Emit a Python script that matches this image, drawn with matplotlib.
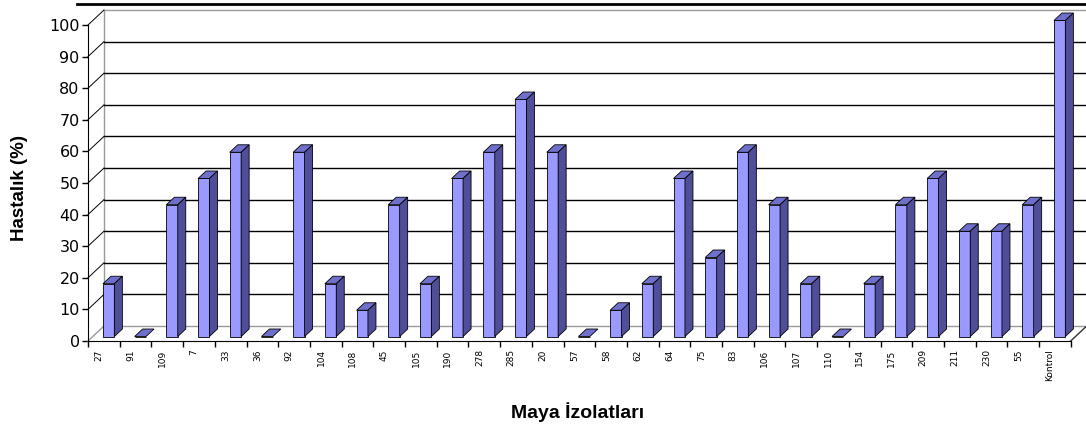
import matplotlib
matplotlib.use("Agg")
import matplotlib.pyplot as plt
from matplotlib.patches import Polygon
from matplotlib.lines import Line2D
import numpy as np

isolates = ["27", "91", "109", "7", "33", "36", "92", "104", "108", "45", "105",
            "190", "278", "285", "20", "57", "58", "62", "64", "75", "83", "106",
            "107", "110", "154", "175", "209", "211", "230", "55", "Kontrol"]
disease = [16.7, 0, 41.7, 50, 58.3, 0, 58.3, 16.7, 8.3, 41.7, 16.7,
           50, 58.3, 75, 58.3, 0, 8.3, 16.7, 50, 25, 58.3, 41.7,
           16.7, 0, 16.7, 41.7, 50, 33.3, 33.3, 41.7, 100]
yticks = list(range(0, 101, 10))

W, H = 1086, 430
fig = plt.figure(figsize=(W / 100, H / 100), dpi=100)

# pixel geometry of the pseudo-3d box
x0_px, y0_px = 88, 341          # front origin
cat_px, unit_px = 31.7, 3.16    # px per category / per percent
xmin, ymin, ymax = -0.2, -2.0, 106.0
xmax = (W - x0_px) / cat_px
left = x0_px + xmin * cat_px
bottom = y0_px - ymin * unit_px
top = y0_px - ymax * unit_px
ax = fig.add_axes([left / W, 1 - bottom / H, (W - left) / W, (bottom - top) / H])
ax.set_xlim(xmin, xmax)
ax.set_ylim(ymin, ymax)

n = len(isolates)
dx, dy = 16 / cat_px, 15 / unit_px   # wall depth in data units
wall_col = "#9a9a9a"

# back wall border and floor
ax.plot([dx, dx, n + dx], [dy, 100 + dy, 100 + dy], color=wall_col, lw=1)
ax.plot([dx, n + dx], [dy, dy], color=wall_col, lw=1)
ax.plot([n + dx, n + dx], [dy, 100 + dy], color=wall_col, lw=1)
ax.plot([0, dx], [0, dy], color=wall_col, lw=1)
ax.plot([n, n + dx], [0, dy], color="#333333", lw=1)
for v in yticks[1:]:
    if v < 100:
        ax.plot([dx, n + dx], [v + dy, v + dy], color="black", lw=1)
    ax.plot([0, dx], [v, v + dy], color="black", lw=0.7)

# bars: front face with ax.bar, top and side faces as polygons
a0, a1 = 0.3, 0.8
bw = 0.36
centers = np.arange(n) + 0.5
xf = centers + a0 * dx
base = a0 * dy
ax.bar(xf, disease, width=bw, bottom=base, color="#9999ff",
       edgecolor="black", linewidth=0.6, zorder=3)
ddx, ddy = (a1 - a0) * dx, (a1 - a0) * dy
for xc, v in zip(xf, disease):
    xl, xr = xc - bw / 2, xc + bw / 2
    yt = base + v
    ax.add_patch(Polygon([(xl, yt), (xr, yt), (xr + ddx, yt + ddy), (xl + ddx, yt + ddy)],
                         closed=True, facecolor="#6f6fcc", edgecolor="black", lw=0.6, zorder=3))
    if v > 0:
        ax.add_patch(Polygon([(xr, base), (xr, yt), (xr + ddx, yt + ddy), (xr + ddx, base + ddy)],
                             closed=True, facecolor="#4f4f99", edgecolor="black", lw=0.6, zorder=3))

for s in ["top", "right"]:
    ax.spines[s].set_visible(False)
ax.spines["left"].set_position(("data", 0))
ax.spines["left"].set_bounds(0, 100)
ax.spines["bottom"].set_position(("data", 0))
ax.spines["bottom"].set_bounds(0, n)

ax.set_yticks(yticks)
ax.tick_params(axis="y", length=4, width=1, labelsize=11.5, pad=2)
ax.set_xticks(np.arange(n + 1))
ax.set_xticklabels([""] * (n + 1))
ax.tick_params(axis="x", which="major", length=4, width=1)
ax.set_xticks(centers - 0.15, isolates, minor=True)
ax.tick_params(axis="x", which="minor", length=0, labelsize=6.5, rotation=90, pad=6)

fig.text(20 / W, 1 - 188 / H, "Hastalık (%)", rotation=90, ha="center", va="center",
         fontsize=13.5, fontweight="bold", family="Liberation Sans")
fig.text(578 / W, 1 - 412 / H, "Maya İzolatları", ha="center", va="center",
         fontsize=14, fontweight="bold", family="Liberation Sans")
fig.add_artist(Line2D([77 / W, 1], [1 - 4 / H, 1 - 4 / H], color="black", lw=2))

fig.savefig("out.png", dpi=100)
